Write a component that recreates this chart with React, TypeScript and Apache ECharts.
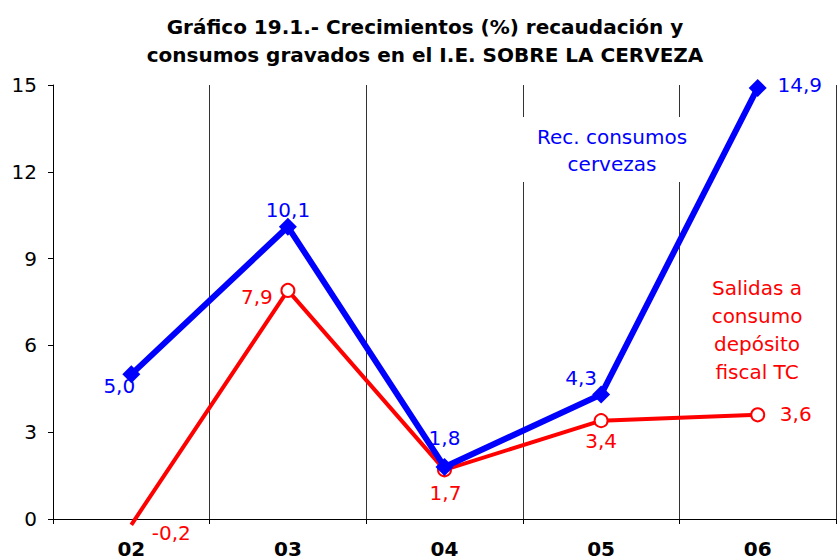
import React, { useEffect, useRef } from "react";
import * as echarts from "echarts";

const categories = ["02", "03", "04", "05", "06"];
const recaudacion = [5.0, 10.1, 1.8, 4.3, 14.9];
const salidas = [-0.2, 7.9, 1.7, 3.4, 3.6];
const yTicks = { min: 0, max: 15, interval: 3 };
const blueLabelOffset = [[-12, 12], [0, -17], [0, -29], [-20, -17], [42, -3]];
const redLabelOffset = [[40, 8], [-31, 7], [1, 23], [0, 20], [38, -1]];

const FONT = "DejaVu Sans";
const fmt = (v: number) => v.toFixed(1).replace(".", ",");

export default function App() {
  const ref = useRef<HTMLDivElement>(null);
  useEffect(() => {
    const chart = echarts.init(ref.current!, null, { renderer: "svg" });
    const blueData = recaudacion.map((v, i) => ({
      value: v,
      label: { position: "inside", offset: blueLabelOffset[i] },
    }));
    const redData = salidas.map((v, i) => ({
      value: v,
      symbolSize: v < 0 ? 0.01 : 13,
      itemStyle: v < 0 ? { color: "rgba(0,0,0,0)", borderColor: "rgba(0,0,0,0)" } : undefined,
      label: { position: "inside", offset: redLabelOffset[i] },
    }));
    chart.setOption({
      animation: false,
      backgroundColor: "#ffffff",
      title: {
        text: "Gráfico 19.1.- Crecimientos (%) recaudación y\nconsumos gravados en el I.E. SOBRE LA CERVEZA",
        left: 420,
        top: 8,
        textAlign: "center",
        textStyle: { fontFamily: FONT, fontSize: 20, fontWeight: "bold", color: "#000", lineHeight: 28 },
      },
      grid: { left: 53, right: 1, top: 85, bottom: 41, containLabel: false },
      xAxis: {
        type: "category",
        data: categories,
        boundaryGap: true,
        axisLine: { lineStyle: { color: "#000", width: 1 } },
        axisTick: { show: true, length: 5, lineStyle: { color: "#000" } },
        axisLabel: { fontFamily: FONT, fontSize: 20, fontWeight: "bold", color: "#000", margin: 20 },
        splitLine: { show: true, lineStyle: { color: "#333", width: 1 } },
      },
      yAxis: {
        type: "value",
        min: yTicks.min,
        max: yTicks.max,
        interval: yTicks.interval,
        axisLine: { show: true, lineStyle: { color: "#000" } },
        axisTick: { show: true, length: 5, lineStyle: { color: "#000" } },
        axisLabel: { fontFamily: FONT, fontSize: 20, color: "#000", margin: 16 },
        splitLine: { show: false },
      },
      series: [
        {
          type: "line",
          data: redData,
          clip: false,
          z: 2,
          symbol: "circle",
          symbolSize: 13,
          lineStyle: { color: "#ff0000", width: 4 },
          itemStyle: { color: "#ffffff", borderColor: "#ff0000", borderWidth: 2 },
          label: {
            show: true,
            formatter: (p: any) => fmt(p.value),
            fontFamily: FONT,
            fontSize: 20,
            color: "#ff0000",
          },
        },
        {
          type: "line",
          data: blueData,
          z: 3,
          symbol: "diamond",
          symbolSize: 18,
          lineStyle: { color: "#0000ff", width: 6 },
          itemStyle: { color: "#0000ff" },
          label: {
            show: true,
            formatter: (p: any) => fmt(p.value),
            fontFamily: FONT,
            fontSize: 20,
            color: "#0000ff",
          },
        },
      ],
      graphic: [
        {
          type: "rect",
          z: 1,
          shape: { x: 519, y: 117, width: 184, height: 65 },
          style: { fill: "#ffffff" },
        },
        {
          type: "text",
          x: 612,
          y: 123,
          z: 10,
          style: {
            text: "Rec. consumos\ncervezas",
            fontFamily: FONT,
            fontSize: 20,
            fill: "#0000ff",
            align: "center",
            verticalAlign: "top",
            lineHeight: 27,
          },
        },
        {
          type: "text",
          x: 757,
          y: 274,
          z: 10,
          style: {
            text: "Salidas a\nconsumo\ndepósito\nfiscal TC",
            fontFamily: FONT,
            fontSize: 20,
            fill: "#ff0000",
            align: "center",
            verticalAlign: "top",
            lineHeight: 28,
          },
        },
      ],
    });
    return () => chart.dispose();
  }, []);
  return <div ref={ref} style={{ width: 837, height: 560, position: "absolute", left: 0, top: 0 }} />;
}
